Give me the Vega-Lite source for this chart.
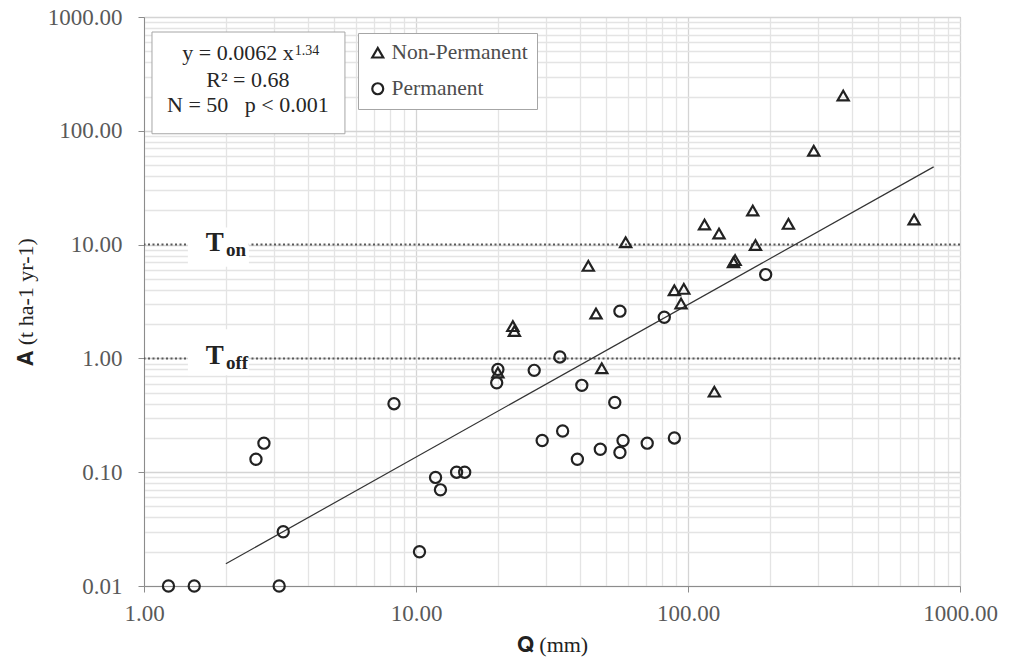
{
  "$schema": "https://vega.github.io/schema/vega-lite/v6.json",
  "width": 816,
  "height": 569,
  "autosize": {"type": "none"},
  "padding": {"left": 144, "top": 17, "right": 54, "bottom": 80},
  "background": "white",
  "config": {
    "font": "Liberation Serif",
    "view": {"stroke": "#a6a6a6", "strokeWidth": 1}
  },
  "datasets": {
    "points": [
      {"Q": 20.0, "A": 0.75, "type": "Non-Permanent"},
      {"Q": 22.7, "A": 1.92, "type": "Non-Permanent"},
      {"Q": 23.0, "A": 1.74, "type": "Non-Permanent"},
      {"Q": 43.0, "A": 6.5, "type": "Non-Permanent"},
      {"Q": 45.9, "A": 2.48, "type": "Non-Permanent"},
      {"Q": 48.2, "A": 0.82, "type": "Non-Permanent"},
      {"Q": 59.0, "A": 10.5, "type": "Non-Permanent"},
      {"Q": 89.1, "A": 3.97, "type": "Non-Permanent"},
      {"Q": 96.5, "A": 4.08, "type": "Non-Permanent"},
      {"Q": 94.3, "A": 3.04, "type": "Non-Permanent"},
      {"Q": 115, "A": 15.0, "type": "Non-Permanent"},
      {"Q": 125, "A": 0.51, "type": "Non-Permanent"},
      {"Q": 130, "A": 12.5, "type": "Non-Permanent"},
      {"Q": 147, "A": 7.0, "type": "Non-Permanent"},
      {"Q": 149, "A": 7.3, "type": "Non-Permanent"},
      {"Q": 173, "A": 19.9, "type": "Non-Permanent"},
      {"Q": 177, "A": 9.9, "type": "Non-Permanent"},
      {"Q": 234, "A": 15.2, "type": "Non-Permanent"},
      {"Q": 290, "A": 66.8, "type": "Non-Permanent"},
      {"Q": 372, "A": 204, "type": "Non-Permanent"},
      {"Q": 678, "A": 16.6, "type": "Non-Permanent"},
      {"Q": 1.23, "A": 0.01, "type": "Permanent"},
      {"Q": 1.53, "A": 0.01, "type": "Permanent"},
      {"Q": 3.14, "A": 0.01, "type": "Permanent"},
      {"Q": 2.58, "A": 0.13, "type": "Permanent"},
      {"Q": 2.76, "A": 0.18, "type": "Permanent"},
      {"Q": 3.25, "A": 0.03, "type": "Permanent"},
      {"Q": 8.3, "A": 0.4, "type": "Permanent"},
      {"Q": 10.3, "A": 0.02, "type": "Permanent"},
      {"Q": 11.8, "A": 0.09, "type": "Permanent"},
      {"Q": 12.3, "A": 0.07, "type": "Permanent"},
      {"Q": 14.1, "A": 0.1, "type": "Permanent"},
      {"Q": 15.1, "A": 0.1, "type": "Permanent"},
      {"Q": 20.0, "A": 0.8, "type": "Permanent"},
      {"Q": 19.8, "A": 0.61, "type": "Permanent"},
      {"Q": 27.2, "A": 0.785, "type": "Permanent"},
      {"Q": 29.1, "A": 0.19, "type": "Permanent"},
      {"Q": 33.8, "A": 1.03, "type": "Permanent"},
      {"Q": 34.6, "A": 0.23, "type": "Permanent"},
      {"Q": 39.2, "A": 0.13, "type": "Permanent"},
      {"Q": 40.7, "A": 0.58, "type": "Permanent"},
      {"Q": 47.6, "A": 0.159, "type": "Permanent"},
      {"Q": 53.8, "A": 0.41, "type": "Permanent"},
      {"Q": 56.2, "A": 2.6, "type": "Permanent"},
      {"Q": 56.2, "A": 0.149, "type": "Permanent"},
      {"Q": 57.7, "A": 0.19, "type": "Permanent"},
      {"Q": 70.8, "A": 0.18, "type": "Permanent"},
      {"Q": 81.8, "A": 2.3, "type": "Permanent"},
      {"Q": 89.1, "A": 0.2, "type": "Permanent"},
      {"Q": 193, "A": 5.45, "type": "Permanent"}
    ],
    "trend": [
      {"Q": 2, "A": 0.0157},
      {"Q": 800, "A": 48.2}
    ],
    "thresholds": [
      {"A": 10, "T": "T", "sub": "on"},
      {"A": 1, "T": "T", "sub": "off"}
    ]
  },
  "layer": [
    {
      "data": {"name": "thresholds"},
      "mark": {"type": "rule", "strokeDash": [2, 2.5], "strokeWidth": 2, "color": "#5a5a5a"},
      "encoding": {
        "y": {"field": "A", "type": "quantitative"}
      }
    },
    {
      "data": {"values": [{}]},
      "mark": {"type": "rect", "fill": "white"},
      "encoding": {
        "x": {"datum": 1.45, "type": "quantitative"},
        "x2": {"datum": 2.43},
        "y": {"datum": 14.1, "type": "quantitative"},
        "y2": {"datum": 6.4}
      }
    },
    {
      "data": {"values": [{}]},
      "mark": {"type": "rect", "fill": "white"},
      "encoding": {
        "x": {"datum": 1.45, "type": "quantitative"},
        "x2": {"datum": 2.43},
        "y": {"datum": 1.8, "type": "quantitative"},
        "y2": {"datum": 0.71}
      }
    },
    {
      "data": {"name": "thresholds"},
      "mark": {"type": "text", "font": "Liberation Serif", "fontWeight": "bold", "fontSize": 27, "align": "center", "baseline": "alphabetic", "dy": 6, "color": "#222"},
      "encoding": {
        "x": {"datum": 1.82, "type": "quantitative"},
        "y": {"field": "A", "type": "quantitative"},
        "text": {"field": "T"}
      }
    },
    {
      "data": {"name": "thresholds"},
      "mark": {"type": "text", "font": "Liberation Serif", "fontWeight": "bold", "fontSize": 19, "align": "left", "baseline": "alphabetic", "dy": 11, "color": "#222"},
      "encoding": {
        "x": {"datum": 2.0, "type": "quantitative"},
        "y": {"field": "A", "type": "quantitative"},
        "text": {"field": "sub"}
      }
    },
    {
      "data": {"name": "trend"},
      "mark": {"type": "line", "strokeWidth": 1.2, "color": "#333333"},
      "encoding": {
        "x": {"field": "Q", "type": "quantitative"},
        "y": {"field": "A", "type": "quantitative"}
      }
    },
    {
      "data": {"name": "points"},
      "mark": {"type": "point", "filled": false, "strokeWidth": 2.2, "size": 125, "color": "#222222", "opacity": 1},
      "encoding": {
        "x": {
          "field": "Q",
          "type": "quantitative",
          "scale": {"type": "log", "domain": [1, 1000], "nice": false},
          "axis": {
            "values": [1, 2, 3, 4, 5, 6, 7, 8, 9, 10, 20, 30, 40, 50, 60, 70, 80, 90, 100, 200, 300, 400, 500, 600, 700, 800, 900, 1000],
            "labelExpr": "abs(log(datum.value)/LN10 - round(log(datum.value)/LN10)) < 0.001 ? format(datum.value, '.2f') : ''",
            "grid": true,
            "gridColor": {"condition": {"test": "abs(log(datum.value)/LN10 - round(log(datum.value)/LN10)) < 0.001", "value": "#d4d4d4"}, "value": "#e4e4e4"},
            "gridWidth": 1.3,
            "tickOpacity": {"condition": {"test": "abs(log(datum.value)/LN10 - round(log(datum.value)/LN10)) < 0.001", "value": 1}, "value": 0},
            "tickSize": 6,
            "tickColor": "#8c8c8c",
            "domainColor": "#8c8c8c",
            "labelFont": "Liberation Serif",
            "labelFontSize": 23,
            "labelColor": "#595959",
            "labelPadding": 10,
            "labelOverlap": false,
            "labelFlush": false,
            "title": "𝐐 (mm)",
            "titleFont": "Liberation Serif, DejaVu Serif",
            "titleFontSize": 22,
            "titleFontWeight": "normal",
            "titleColor": "#222222",
            "titlePadding": 9
          }
        },
        "y": {
          "field": "A",
          "type": "quantitative",
          "scale": {"type": "log", "domain": [0.01, 1000], "nice": false},
          "axis": {
            "values": [0.01, 0.02, 0.03, 0.04, 0.05, 0.06, 0.07, 0.08, 0.09, 0.1, 0.2, 0.3, 0.4, 0.5, 0.6, 0.7, 0.8, 0.9, 1, 2, 3, 4, 5, 6, 7, 8, 9, 10, 20, 30, 40, 50, 60, 70, 80, 90, 100, 200, 300, 400, 500, 600, 700, 800, 900, 1000],
            "labelExpr": "abs(log(datum.value)/LN10 - round(log(datum.value)/LN10)) < 0.001 ? format(datum.value, '.2f') : ''",
            "grid": true,
            "gridColor": {"condition": {"test": "abs(log(datum.value)/LN10 - round(log(datum.value)/LN10)) < 0.001", "value": "#d4d4d4"}, "value": "#e4e4e4"},
            "gridWidth": 1.3,
            "tickOpacity": {"condition": {"test": "abs(log(datum.value)/LN10 - round(log(datum.value)/LN10)) < 0.001", "value": 1}, "value": 0},
            "tickSize": 6,
            "tickColor": "#8c8c8c",
            "domainColor": "#8c8c8c",
            "labelFont": "Liberation Serif",
            "labelFontSize": 23,
            "labelColor": "#595959",
            "labelPadding": 16,
            "labelOverlap": false,
            "labelFlush": false,
            "title": "𝐀 (t ha-1 yr-1)",
            "titleFont": "Liberation Serif, DejaVu Serif",
            "titleFontSize": 22,
            "titleFontWeight": "normal",
            "titleColor": "#222222",
            "titlePadding": 10
          }
        },
        "shape": {
          "field": "type",
          "type": "nominal",
          "scale": {"domain": ["Non-Permanent", "Permanent"], "range": ["triangle-up", "circle"]},
          "legend": {
            "title": null,
            "orient": "none",
            "legendX": 214,
            "legendY": 16,
            "direction": "vertical",
            "strokeColor": "#a6a6a6",
            "fillColor": "white",
            "padding": 9,
            "labelFont": "Liberation Serif",
            "labelFontSize": 21.5,
            "labelColor": "#4d4d4d",
            "labelOffset": 3,
            "symbolSize": 120,
            "symbolStrokeWidth": 2.2,
            "symbolStrokeColor": "#222222",
            "symbolFillColor": "transparent",
            "rowPadding": 13
          }
        }
      }
    },
    {
      "data": {"values": [{}]},
      "mark": {"type": "rect", "fill": "white", "stroke": "#a6a6a6", "strokeWidth": 1},
      "encoding": {
        "x": {"datum": 1.07, "type": "quantitative"},
        "x2": {"datum": 5.48},
        "y": {"datum": 738, "type": "quantitative"},
        "y2": {"datum": 94.2}
      }
    },
    {
      "data": {"values": [{}]},
      "mark": {"type": "text", "text": "y = 0.0062 x", "font": "Liberation Serif", "fontSize": 22, "align": "right", "baseline": "alphabetic", "color": "#262626"},
      "encoding": {
        "x": {"datum": 3.55, "type": "quantitative"},
        "y": {"datum": 420, "type": "quantitative"}
      }
    },
    {
      "data": {"values": [{}]},
      "mark": {"type": "text", "text": "1.34", "font": "Liberation Serif", "fontSize": 14, "align": "left", "baseline": "alphabetic", "dx": 1, "color": "#262626"},
      "encoding": {
        "x": {"datum": 3.55, "type": "quantitative"},
        "y": {"datum": 464, "type": "quantitative"}
      }
    },
    {
      "data": {"values": [{}]},
      "mark": {"type": "text", "text": "R² = 0.68", "font": "Liberation Serif", "fontSize": 22, "align": "center", "baseline": "alphabetic", "color": "#262626"},
      "encoding": {
        "x": {"datum": 2.41, "type": "quantitative"},
        "y": {"datum": 243, "type": "quantitative"}
      }
    },
    {
      "data": {"values": [{}]},
      "mark": {"type": "text", "text": "N = 50\u00a0\u00a0\u00a0p < 0.001", "font": "Liberation Serif", "fontSize": 22, "align": "center", "baseline": "alphabetic", "color": "#262626"},
      "encoding": {
        "x": {"datum": 2.41, "type": "quantitative"},
        "y": {"datum": 146.7, "type": "quantitative"}
      }
    }
  ]
}
